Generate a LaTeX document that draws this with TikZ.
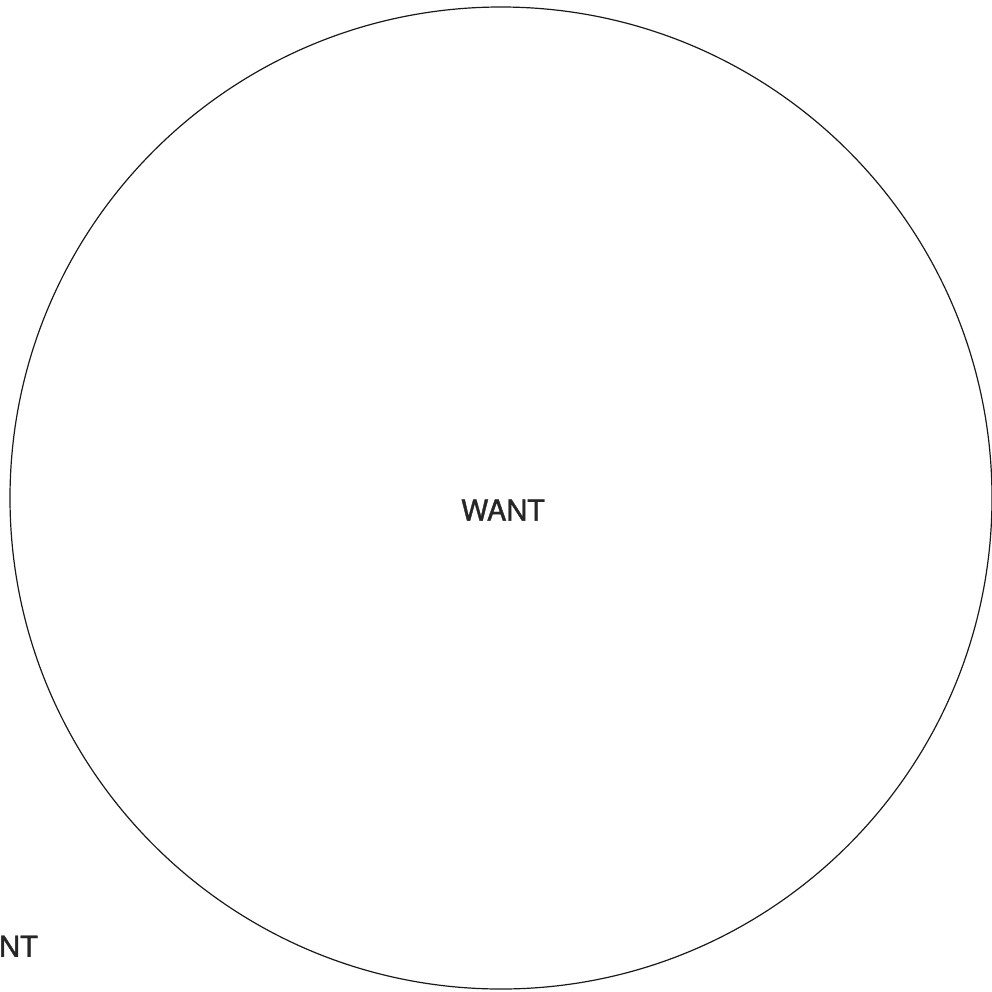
\documentclass[tikz,border=0pt]{standalone}
\usepackage{fontspec}
\setmainfont{TeX Gyre Heros}
\newfontfamily\medfont{TeX Gyre Heros}[FakeBold=1.2]
\begin{document}
\begin{tikzpicture}[x=1pt,y=-1pt,
  ring/.style={draw=black!90,line width=1.2pt,circle,minimum size=982pt,inner sep=0pt},
  lbl/.style={font=\medfont\fontsize{29}{32}\selectfont,text=black!85,inner sep=0pt}]
\useasboundingbox (0,0) rectangle (992,991);
\node[ring] (c) at (501,498) {};
\node[lbl] (want) at (503,510) {WANT};
\node[lbl,anchor=south west] (nt) at (-1,957) {NT};
\end{tikzpicture}
\end{document}
